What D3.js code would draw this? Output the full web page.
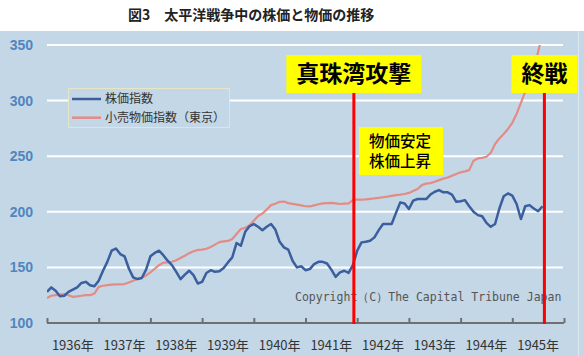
<!DOCTYPE html>
<html><head><meta charset="utf-8">
<script src="https://cdn.jsdelivr.net/npm/d3@7"></script>
<style>body{margin:0;background:#fff}svg{display:block}</style>
</head><body><svg id="c" width="584" height="356"></svg>
<script>
// ---- data ----
const title = "図3　太平洋戦争中の株価と物価の推移";
const startYear = 1936;
const yearLabels = ["1936年","1937年","1938年","1939年","1940年","1941年","1942年","1943年","1944年","1945年"];
const yTicks = [100, 150, 200, 250, 300, 350];
const seriesNames = ["株価指数", "小売物価指数（東京）"];
// monthly values, Jan 1936 .. Aug 1945
const stockIndex = [
  128,132,129,124,124.5,128,130,132,136,137,134,133,
  138,147,155,165,167,162,160,149,141,139.5,140.5,148,
  160,163,165,161,156,152,146,139.5,143.5,147,143,135.5,
  137,145,147.5,146,146.5,149.5,154.5,159,172,169.5,182,187,
  189,186.5,183.5,186.5,189,184,173,168,166,156,150,151,
  147.5,148.5,153,155,155,153.5,148,141.5,145.5,147,145,152,
  165,172.5,173,174,177,183.5,189,189,189,199,208.5,207.5,
  202.5,210,211.5,211.5,211.5,215.5,218,219.5,217.5,217.5,215.5,209,
  209.5,210.5,205,200,197,196,190,186.5,189,203,214,216.5,
  214.5,207,193.5,205,206,203,200.5,205
];
const retailPriceIndex = [
  122.5,124.5,125,125.5,126,125,123.5,124,124.5,125,125,126.5,
  132.5,133.5,134,134.5,134.7,134.7,135,136.5,138,139.5,141,142.8,
  145.5,148.8,152,154.2,154.6,155,156.4,158.4,160.5,162.8,164.5,165.7,
  166,166.8,168.4,170.5,172.7,173.4,173.8,175.6,180,184.5,185.5,188,
  192,196.2,198.5,202,206,207.3,209,209.2,207.8,207.2,206.5,205.8,
  205,204.8,205.8,206.8,207.6,207.8,208,207.5,207,207.3,207.6,210.5,
  211,211,211.2,211.6,212,212.6,213.1,213.6,214.3,215,215.4,216,
  217,218.7,220.5,224,225.3,225.8,227,228.5,229.8,230.8,232.5,234,
  235.5,236.4,237.5,246,248,248.5,249.5,253,261,266,270,274.5,
  280,288,298,308,317.5,328.5,344,360
];
const events = [
  {label: "真珠湾攻撃", date: [1941, 12, 8]},
  {label: "終戦", date: [1945, 8, 15]}
];
const noteLines = ["物価安定", "株価上昇"];
const copyright = "Copyright（C）The Capital Tribune Japan";

// ---- chart ----
const svg = d3.select("#c");
const W = 584, H = 356;
const pL = 47, pR = 564, pT = 45, pB = 323;
const nYears = yearLabels.length;

svg.append("rect").attr("x", 0).attr("y", 31).attr("width", W).attr("height", H - 31).attr("fill", "#c3d7e6");
svg.append("line").attr("x1", 578.5).attr("x2", 578.5).attr("y1", 31).attr("y2", H).attr("stroke", "#dde8f1").attr("stroke-width", 1);

svg.append("text").attr("x", 128).attr("y", 20).text(title)
  .attr("font-family", "'Noto Sans CJK JP', sans-serif").attr("font-weight", "bold")
  .attr("font-size", 14).attr("fill", "#222");

const x = d3.scaleLinear().domain([0, nYears * 12]).range([pL, pR]);
const y = d3.scaleLinear().domain([100, 350]).range([pB, pT]);

// grid lines
svg.append("g").selectAll("line").data(yTicks.filter(v => v > 100)).join("line")
  .attr("x1", pL).attr("x2", pR - 1)
  .attr("y1", d => y(d)).attr("y2", d => y(d))
  .attr("stroke", "#ffffff").attr("stroke-width", 2);

// y labels
svg.append("g").selectAll("text").data(yTicks).join("text")
  .attr("x", 33).attr("y", d => y(d)).attr("dy", "0.36em")
  .attr("text-anchor", "end")
  .attr("font-family", "'Liberation Sans', Arial, sans-serif").attr("font-weight", "bold")
  .attr("font-size", 14).attr("fill", "#4f86c0").text(d => d);

// x axis
const xAxis = d3.axisTop(x).tickValues(d3.range(0, nYears * 12 + 1, 12)).tickSize(5).tickFormat("");
const gx = svg.append("g").attr("transform", `translate(0,${pB})`).call(xAxis);
gx.select(".domain").attr("stroke", "#707070").attr("stroke-width", 2).attr("d", `M${pL},0H${pR}`);
gx.selectAll(".tick line").attr("stroke", "#707070").attr("stroke-width", 2);

svg.append("g").selectAll("text").data(yearLabels).join("text")
  .attr("x", (d, i) => x(i * 12 + 6)).attr("y", 350)
  .attr("text-anchor", "middle")
  .attr("font-family", "'Noto Sans CJK JP', sans-serif")
  .attr("font-size", 13).attr("fill", "#333").text(d => d);

// clip
svg.append("clipPath").attr("id", "plot").append("rect")
  .attr("x", pL).attr("y", pT).attr("width", pR - pL).attr("height", pB - pT);

const line = d3.line().x((d, i) => x(i)).y(d => y(d));
svg.append("path").datum(retailPriceIndex).attr("d", line)
  .attr("clip-path", "url(#plot)")
  .attr("fill", "none").attr("stroke", "#e38c85").attr("stroke-width", 2.2).attr("stroke-linejoin", "round");
svg.append("path").datum(stockIndex).attr("d", line)
  .attr("clip-path", "url(#plot)")
  .attr("fill", "none").attr("stroke", "#3b5e9e").attr("stroke-width", 2.5).attr("stroke-linejoin", "round");

// copyright
svg.append("text").attr("x", 295).attr("y", 301).text(copyright)
  .attr("font-family", "'DejaVu Sans Mono', monospace").attr("font-size", 11.5)
  .attr("fill", "#555");

// event lines + labels
const monthPos = d => (d[0] - startYear) * 12 + (d[1] - 1) + (d[2] - 1) / 31;
events.forEach(ev => {
  const ex = x(monthPos(ev.date));
  svg.append("line").attr("x1", ex).attr("x2", ex).attr("y1", 93).attr("y2", pB + 1)
    .attr("stroke", "#ff0000").attr("stroke-width", 3);
  const t = svg.append("text").attr("x", ex).attr("y", 74).attr("dy", "0.36em")
    .attr("text-anchor", "middle")
    .attr("font-family", "'Noto Sans CJK JP', sans-serif").attr("font-weight", "bold")
    .attr("font-size", 23).attr("fill", "#000").text(ev.label);
  const bb = t.node().getBBox();
  svg.insert("rect", () => t.node())
    .attr("x", ex - bb.width / 2 - 10).attr("y", 55)
    .attr("width", bb.width + 20).attr("height", 38).attr("fill", "#ffff00");
});

// note box
svg.append("rect").attr("x", 359).attr("y", 127).attr("width", 84).attr("height", 48).attr("fill", "#ffff00");
svg.append("g").selectAll("text").data(noteLines).join("text")
  .attr("x", 400).attr("y", (d, i) => 141.5 + i * 20).attr("dy", "0.36em")
  .attr("text-anchor", "middle")
  .attr("font-family", "'Noto Sans CJK JP', sans-serif").attr("font-weight", 500)
  .attr("font-size", 15.5).attr("fill", "#000").text(d => d);

// legend
const lg = svg.append("g");
lg.append("rect").attr("x", 68.5).attr("y", 88.5).attr("width", 161).attr("height", 39)
  .attr("fill", "#c3d7e6").attr("stroke", "#e6e6c6").attr("stroke-width", 1);
const legColors = ["#3b5e9e", "#e38c85"];
seriesNames.forEach((n, i) => {
  const ly = 99 + i * 18.7;
  lg.append("line").attr("x1", 72).attr("x2", 101).attr("y1", ly).attr("y2", ly)
    .attr("stroke", legColors[i]).attr("stroke-width", 2.5);
  lg.append("text").attr("x", 105).attr("y", ly).attr("dy", "0.36em")
    .attr("font-family", "'Noto Sans CJK JP', sans-serif")
    .attr("font-size", 12).attr("fill", "#333").text(n);
});
</script></body></html>
